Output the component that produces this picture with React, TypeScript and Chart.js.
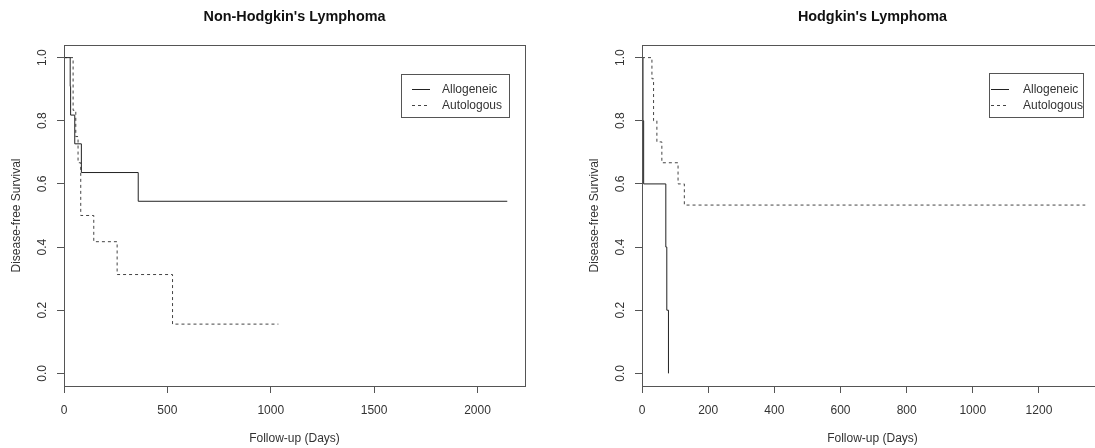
import React, { useEffect, useRef } from 'react';
import { Chart, registerables } from 'chart.js';

Chart.register(...registerables);

// Kaplan–Meier estimates: follow-up day of each step and the survival after it
const nhlAlloDays = [0, 30, 32, 52, 84, 359, 2144];
const nhlAlloSurv = [1, 0.909, 0.818, 0.727, 0.636, 0.545, 0.545];
const nhlAutoDays = [0, 44, 57, 68, 81, 144, 257, 525, 1037];
const nhlAutoSurv = [1, 0.833, 0.75, 0.667, 0.5, 0.417, 0.313, 0.156, 0.156];

const hlAlloDays = [0, 3, 5, 72, 75, 80];
const hlAlloSurv = [1, 0.8, 0.6, 0.4, 0.2, 0];
const hlAutoDays = [0, 30, 35, 45, 60, 109, 128, 1340];
const hlAutoSurv = [1, 0.933, 0.8, 0.733, 0.667, 0.6, 0.533, 0.533];

const groupNames = ['Allogeneic', 'Autologous'];
const survivalTicks = [0, 0.2, 0.4, 0.6, 0.8, 1.0];
const nhlDayTicks = [0, 500, 1000, 1500, 2000];
const hlDayTicks = [0, 200, 400, 600, 800, 1000, 1200];
const panelTitles = ["Non-Hodgkin's Lymphoma", "Hodgkin's Lymphoma"];
const xAxisTitle = 'Follow-up (Days)';
const yAxisTitle = 'Disease-free Survival';

const FONT = '"Liberation Sans", Arial, Helvetica, sans-serif';
const INK = '#333';
const FRAME = '#555';
const PANEL_W = 578;
const PANEL_H = 448;

Chart.defaults.font.family = FONT;

// Box around the plotting region
const plotFrame = {
  id: 'plotFrame',
  afterDatasetsDraw(chart: any) {
    const { ctx, chartArea } = chart;
    const l = Math.round(chartArea.left);
    const t = Math.round(chartArea.top);
    const r = Math.round(chartArea.right);
    const b = Math.round(chartArea.bottom);
    ctx.save();
    ctx.strokeStyle = FRAME;
    ctx.lineWidth = 1;
    ctx.strokeRect(l + 0.5, t + 0.5, r - l, b - t);
    ctx.restore();
  },
};

// Boxed legend inside the plot, built from the datasets
const boxLegend = {
  id: 'boxLegend',
  afterDatasetsDraw(chart: any, _args: any, opts: any) {
    if (!opts || !opts.width) return;
    const { ctx } = chart;
    const { x, y, width, height, lineStart, lineEnd, textStart, rows } = opts;
    ctx.save();
    ctx.fillStyle = '#fff';
    ctx.fillRect(x, y, width, height);
    ctx.strokeStyle = FRAME;
    ctx.lineWidth = 1;
    ctx.strokeRect(x + 0.5, y + 0.5, width, height);
    chart.data.datasets.forEach((ds: any, i: number) => {
      const ry = Math.round(y + rows[i]) + 0.5;
      ctx.beginPath();
      ctx.setLineDash(ds.borderDash || []);
      ctx.strokeStyle = ds.borderColor;
      ctx.moveTo(x + lineStart, ry);
      ctx.lineTo(x + lineEnd, ry);
      ctx.stroke();
      ctx.setLineDash([]);
      ctx.fillStyle = INK;
      ctx.font = `12px ${FONT}`;
      ctx.textAlign = 'left';
      ctx.textBaseline = 'middle';
      ctx.fillText(ds.label, x + textStart, ry);
    });
    ctx.restore();
  },
};

const toPoints = (days: number[], surv: number[]) =>
  days.map((d, i) => ({ x: d, y: surv[i] }));

function buildConfig(
  title: string,
  alloDays: number[],
  alloSurv: number[],
  autoDays: number[],
  autoSurv: number[],
  dayTicks: number[],
  legendBox: any
): any {
  const lastDay = Math.max(...alloDays, ...autoDays);
  const tickGrid = {
    display: true,
    drawOnChartArea: false,
    drawTicks: true,
    tickLength: 7,
    color: FRAME,
    lineWidth: 1,
  };
  return {
    type: 'line',
    data: {
      datasets: [
        {
          label: groupNames[0],
          data: toPoints(alloDays, alloSurv),
          borderColor: '#222',
          borderWidth: 1,
          pointRadius: 0,
          stepped: 'before',
          fill: false,
        },
        {
          label: groupNames[1],
          data: toPoints(autoDays, autoSurv),
          borderColor: '#444',
          borderWidth: 1,
          borderDash: [3, 3],
          pointRadius: 0,
          stepped: 'before',
          fill: false,
        },
      ],
    },
    options: {
      animation: false,
      responsive: false,
      devicePixelRatio: 1,
      layout: { padding: { left: 0, right: 53, top: 0, bottom: 0 } },
      plugins: {
        legend: { display: false },
        tooltip: { enabled: false },
        title: {
          display: true,
          text: title,
          fullSize: false,
          color: '#111',
          font: { size: 14.4, weight: 'bold' },
          padding: { top: 8.4, bottom: 19.3 },
        },
        boxLegend: legendBox,
      },
      scales: {
        x: {
          type: 'linear',
          min: 0,
          max: lastDay * 1.04,
          afterBuildTicks: (s: any) => {
            s.ticks = dayTicks.map((v) => ({ value: v }));
          },
          afterFit: (s: any) => {
            s.height = 62;
          },
          grid: tickGrid,
          border: { display: false },
          ticks: {
            padding: 10,
            color: INK,
            font: { size: 12 },
            autoSkip: false,
            minRotation: 0,
            maxRotation: 0,
            callback: (v: any) => String(v),
          },
          title: {
            display: true,
            text: xAxisTitle,
            color: INK,
            font: { size: 12 },
            padding: { top: 0, bottom: 1.8 },
          },
        },
        y: {
          type: 'linear',
          min: -0.04,
          max: 1.04,
          afterBuildTicks: (s: any) => {
            s.ticks = survivalTicks.map((v) => ({ value: v }));
          },
          afterFit: (s: any) => {
            s.width = 64;
          },
          grid: tickGrid,
          border: { display: false },
          ticks: {
            padding: 5.6,
            color: INK,
            font: { size: 12 },
            autoSkip: false,
            crossAlign: 'center',
            minRotation: 90,
            maxRotation: 90,
            callback: (v: any) => Number(v).toFixed(1),
          },
          title: {
            display: true,
            text: yAxisTitle,
            color: INK,
            font: { size: 12 },
            padding: { top: 9.3, bottom: 0 },
          },
        },
      },
    },
    plugins: [plotFrame, boxLegend],
  };
}

function SurvivalPanel({ index, offset }: { index: number; offset: number }) {
  const ref = useRef<HTMLCanvasElement>(null);
  useEffect(() => {
    if (!ref.current) return;
    const config =
      index === 0
        ? buildConfig(panelTitles[0], nhlAlloDays, nhlAlloSurv, nhlAutoDays, nhlAutoSurv, nhlDayTicks, {
            x: 401, y: 74, width: 108, height: 43, lineStart: 11, lineEnd: 29, textStart: 41, rows: [15, 31],
          })
        : buildConfig(panelTitles[1], hlAlloDays, hlAlloSurv, hlAutoDays, hlAutoSurv, hlDayTicks, {
            x: 411, y: 73, width: 94, height: 44, lineStart: 2, lineEnd: 20, textStart: 34, rows: [16, 32],
          });
    const chart = new Chart(ref.current, config);
    return () => chart.destroy();
  }, [index]);
  return (
    <canvas
      ref={ref}
      width={PANEL_W}
      height={PANEL_H}
      style={{ position: 'absolute', left: offset, top: 0, width: PANEL_W, height: PANEL_H }}
    />
  );
}

export default function App() {
  return (
    <div
      style={{
        position: 'absolute',
        left: 0,
        top: 0,
        width: 1095,
        height: 448,
        overflow: 'hidden',
        background: '#fff',
      }}
    >
      <SurvivalPanel index={0} offset={0} />
      <SurvivalPanel index={1} offset={PANEL_W} />
    </div>
  );
}
